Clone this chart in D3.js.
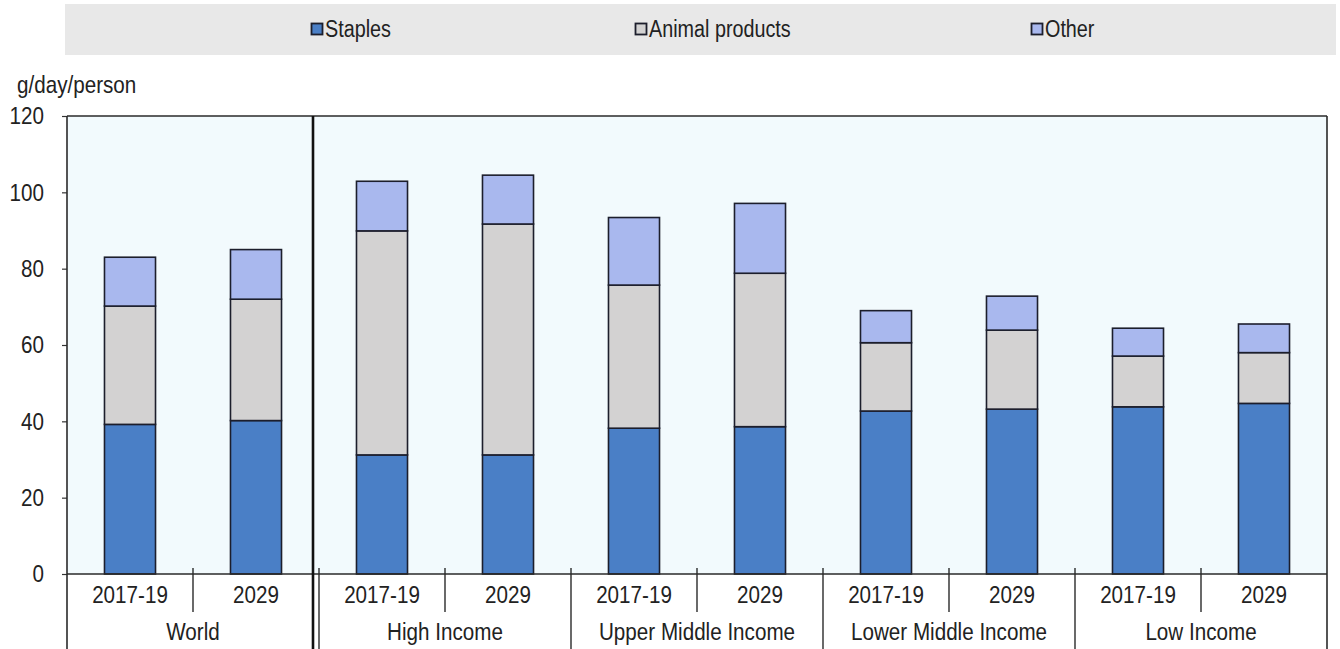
<!DOCTYPE html>
<html>
<head>
<meta charset="utf-8">
<script src="https://cdn.jsdelivr.net/npm/d3@7/dist/d3.min.js"></script>
<style>
  html, body { margin: 0; padding: 0; background: #ffffff; }
  svg { display: block; }
  text { font-family: "Liberation Sans", Arial, sans-serif; fill: #222; }
</style>
</head>
<body>
<svg id="chart" width="1340" height="649"></svg>
<script>
// Daily food consumption per person, by income group
const groups = ["World", "High Income", "Upper Middle Income", "Lower Middle Income", "Low Income"];
const periods = ["2017-19", "2029"];
const seriesNames = ["Staples", "Animal products", "Other"];
const staples = [39.2, 40.2, 31.2, 31.2, 38.2, 38.6, 42.7, 43.2, 43.8, 44.7];
const animalProducts = [31.0, 31.8, 58.7, 60.5, 37.5, 40.2, 17.9, 20.7, 13.3, 13.3];
const other = [12.8, 13.0, 13.0, 12.8, 17.7, 18.3, 8.4, 8.9, 7.3, 7.5];
const yTicks = [0, 20, 40, 60, 80, 100, 120];
const yLabel = "g/day/person";

const colors = { "Staples": "#4a7fc6", "Animal products": "#d3d2d2", "Other": "#a9b8ee" };
const outline = "#1c1e2c";
const squeeze = 0.86; // horizontal condensing of the label face

const W = 1340, H = 649;
const m = { left: 67, right: 1327, top: 116, bottom: 574 };

// move x/y into a transform so the glyphs can be condensed horizontally
function condense(sel) {
  sel.each(function () {
    const t = d3.select(this);
    const x = +t.attr("x") || 0, yy = +t.attr("y") || 0;
    t.attr("x", 0).attr("y", 0)
      .attr("transform", `translate(${x},${yy}) scale(${squeeze},1)`);
  });
}

// one row per (group, period)
const rows = [];
groups.forEach((g, gi) => periods.forEach((p, pi) => {
  const i = gi * periods.length + pi;
  rows.push({ key: g + "|" + p, group: g, period: p,
    "Staples": staples[i], "Animal products": animalProducts[i], "Other": other[i] });
}));

const svg = d3.select("#chart");

const slot = d3.scaleBand().domain(rows.map(d => d.key)).range([m.left, m.right]).padding(0);
const barFrac = 0.405;
const barW = slot.bandwidth() * barFrac;
const y = d3.scaleLinear().domain([0, 120]).range([m.bottom, m.top]);

// legend band
svg.append("rect").attr("x", 65).attr("y", 4).attr("width", 1271).attr("height", 51)
  .attr("fill", "#e8e8e8");
const legendX = [311, 635, 1031];
seriesNames.forEach((s, i) => {
  const g = svg.append("g").attr("transform", `translate(${legendX[i]},23)`);
  g.append("rect").attr("x", 0.5).attr("y", 0.5).attr("width", 11).attr("height", 11)
    .attr("fill", colors[s]).attr("stroke", outline).attr("stroke-width", 1.8);
  g.append("text").attr("x", 14).attr("y", 14)
    .attr("font-size", 23).text(s).call(condense);
});

// plot background
svg.append("rect").attr("x", m.left).attr("y", m.top)
  .attr("width", m.right - m.left).attr("height", m.bottom - m.top)
  .attr("fill", "#f2fafd");

// axis title
svg.append("text").attr("x", 17).attr("y", 93).attr("font-size", 24)
  .text(yLabel).call(condense);

// y axis
const yAxis = d3.axisLeft(y).tickValues(yTicks).tickSize(5).tickPadding(0);
const yg = svg.append("g").attr("transform", `translate(${m.left},0)`).call(yAxis);
yg.select(".domain").remove();
yg.selectAll(".tick line").attr("stroke", "#333").attr("stroke-width", 1.2);
yg.selectAll(".tick text")
  .attr("font-size", 24)
  .style("font-family", "'Liberation Sans', Arial, sans-serif")
  .attr("fill", "#222")
  .attr("x", -23 / squeeze)
  .attr("transform", `scale(${squeeze},1)`);

// stacked bars
const stacked = d3.stack().keys(seriesNames)(rows);
stacked.forEach(layer => {
  svg.append("g").selectAll("rect").data(layer).join("rect")
    .attr("x", d => slot(d.data.key) + (slot.bandwidth() - barW) / 2)
    .attr("y", d => y(d[1]))
    .attr("width", barW)
    .attr("height", d => y(d[0]) - y(d[1]))
    .attr("fill", colors[layer.key])
    .attr("stroke", outline).attr("stroke-width", 1.6);
});

// frame
const frame = svg.append("g").attr("fill", "none").attr("stroke", "#2a2a2a");
frame.append("line").attr("x1", m.left).attr("x2", m.right).attr("y1", m.top).attr("y2", m.top).attr("stroke-width", 1.6);
frame.append("line").attr("x1", m.left).attr("x2", m.left).attr("y1", m.top).attr("y2", H).attr("stroke-width", 1.6);
frame.append("line").attr("x1", m.right).attr("x2", m.right).attr("y1", m.top).attr("y2", H).attr("stroke-width", 1.6);
frame.append("line").attr("x1", m.left).attr("x2", m.right).attr("y1", m.bottom).attr("y2", m.bottom).attr("stroke-width", 1.6);

// divider between World and income groups
const worldEnd = slot(rows[periods.length - 1].key) + slot.bandwidth();
frame.append("line").attr("x1", worldEnd - 6).attr("x2", worldEnd - 6)
  .attr("y1", m.top).attr("y2", H).attr("stroke", "#111").attr("stroke-width", 2.6);

// category axis separators
rows.forEach((d, i) => {
  if (i === 0) return;
  const xb = slot(d.key);
  const groupStart = i % periods.length === 0;
  frame.append("line").attr("x1", xb).attr("x2", xb)
    .attr("y1", m.bottom - 6).attr("y2", groupStart ? H : 612)
    .attr("stroke-width", 1.4);
});

// period labels
svg.append("g").selectAll("text").data(rows).join("text")
  .attr("x", d => slot(d.key) + slot.bandwidth() / 2)
  .attr("y", 603).attr("text-anchor", "middle").attr("font-size", 24)
  .text(d => d.period).call(condense);

// group labels
svg.append("g").selectAll("text").data(groups).join("text")
  .attr("x", (g, gi) => slot(g + "|" + periods[0]) + slot.bandwidth() * periods.length / 2)
  .attr("y", 640).attr("text-anchor", "middle").attr("font-size", 24)
  .text(g => g).call(condense);
</script>
</body>
</html>
